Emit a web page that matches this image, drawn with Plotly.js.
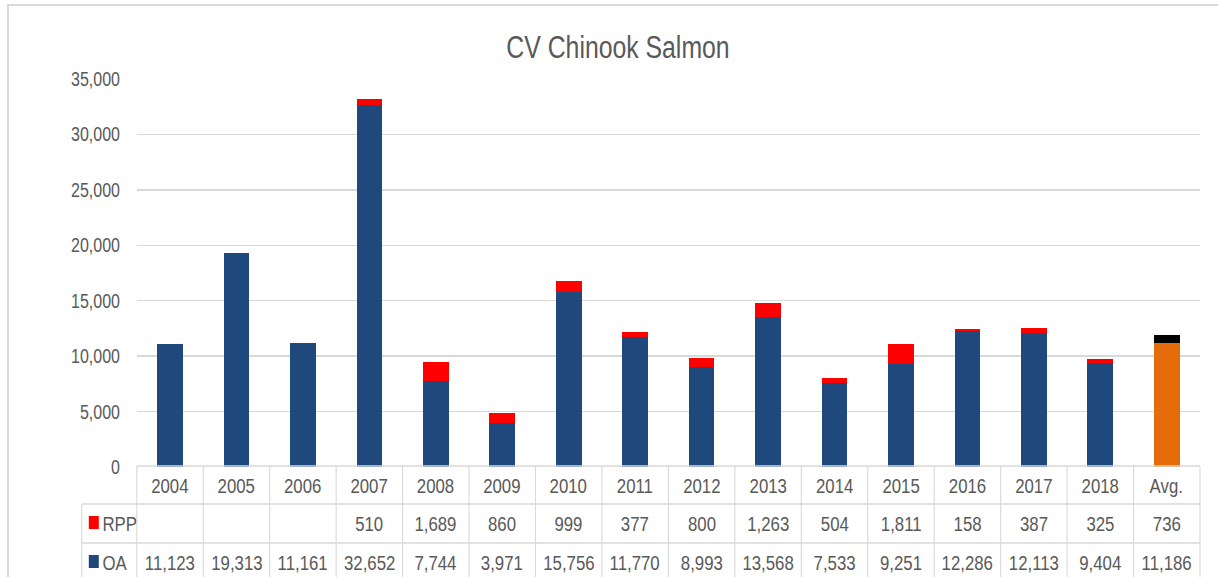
<!DOCTYPE html>
<html>
<head>
<meta charset="utf-8">
<script src="https://cdn.plot.ly/plotly-3.0.1.min.js"></script>
<style>
  html, body { margin: 0; padding: 0; background: #fff; overflow: hidden; }
  #wrap { position: relative; width: 1218px; height: 577px; overflow: hidden; }
  #chart { position: absolute; left: 0; top: 0; transform-origin: 0 0; }
  #frame { position: absolute; left: 7px; top: 4px; width: 1400px; height: 800px;
           border: 2px solid #d9d9d9; pointer-events: none; box-sizing: border-box; }
</style>
</head>
<body>
<div id="wrap">
  <div id="chart"></div>
  <div id="frame"></div>
</div>
<script>
// ---- data ----
var categories = ['2004','2005','2006','2007','2008','2009','2010','2011','2012','2013','2014','2015','2016','2017','2018','Avg.'];
var oaValues  = [11123, 19313, 11161, 32652, 7744, 3971, 15756, 11770, 8993, 13568, 7533, 9251, 12286, 12113, 9404, 11186];
var rppValues = [null, null, null, 510, 1689, 860, 999, 377, 800, 1263, 504, 1811, 158, 387, 325, 736];
var seriesNames = ['OA', 'RPP'];
var yTickVals = [0, 5000, 10000, 15000, 20000, 25000, 30000, 35000];

// ---- style ----
var FONT = '"Liberation Sans", Arial, sans-serif';
var TXT = '#595959';
var GRID = '#d9d9d9';
var OA_COLOR = '#1f497d', RPP_COLOR = '#ff0000', AVG_OA = '#e46c0a', AVG_RPP = '#000000';

// the reference uses a condensed face: draw wider and squeeze horizontally
var SX = 0.8;
var W = 1218, H = 577;
var M = {l: 137, r: 18, t: 79, b: 110};
var PH = H - M.t - M.b, PW = W - M.l - M.r;
function py(pix) { return (H - M.b - pix) / PH; }     // pixel row -> paper y
function px(pix) { return (pix - M.l) / PW; }         // pixel col -> paper x

var n = categories.length;
var isAvg = categories.map(function (c) { return c === 'Avg.'; });

var traceOA = {
  type: 'bar', name: seriesNames[0], x: categories, y: oaValues,
  marker: {color: isAvg.map(function (a) { return a ? AVG_OA : OA_COLOR; })},
  hoverinfo: 'x+y+name'
};
var traceRPP = {
  type: 'bar', name: seriesNames[1], x: categories, y: rppValues,
  marker: {color: isAvg.map(function (a) { return a ? AVG_RPP : RPP_COLOR; })},
  hoverinfo: 'x+y+name'
};

// ---- data table below the axis ----
var rowTop = py(466), rowRpp = py(504), rowOa = py(543), rowEnd = py(600);
var legLeft = px(82);
var shapes = [];
var lineStyle = {color: GRID, width: 1.4};
shapes.push({type: 'line', xref: 'paper', yref: 'paper', x0: 0, x1: 1, y0: rowTop, y1: rowTop, line: lineStyle});
shapes.push({type: 'line', xref: 'paper', yref: 'paper', x0: legLeft, x1: 1, y0: rowRpp, y1: rowRpp, line: lineStyle});
shapes.push({type: 'line', xref: 'paper', yref: 'paper', x0: legLeft, x1: 1, y0: rowOa, y1: rowOa, line: lineStyle});
for (var k = 0; k <= n; k++) {
  shapes.push({type: 'line', xref: 'paper', yref: 'paper', x0: k / n, x1: k / n, y0: rowTop, y1: rowEnd, line: lineStyle});
}
shapes.push({type: 'line', xref: 'paper', yref: 'paper', x0: legLeft, x1: legLeft, y0: rowRpp, y1: rowEnd, line: lineStyle});
// legend keys
shapes.push({type: 'rect', xref: 'paper', yref: 'paper', x0: px(89), x1: px(99), y0: py(529), y1: py(516),
             line: {width: 0}, fillcolor: RPP_COLOR});
shapes.push({type: 'rect', xref: 'paper', yref: 'paper', x0: px(89), x1: px(99), y0: py(568), y1: py(555),
             line: {width: 0}, fillcolor: OA_COLOR});

function fmt(v) { return (v === null || v === undefined) ? '' : v.toLocaleString('en-US'); }

var annotations = [];
var tf = {family: FONT, size: 21, color: TXT};
categories.forEach(function (c, i) {
  var cx = (i + 0.5) / n;
  annotations.push({xref: 'paper', yref: 'paper', x: cx, y: py(485), text: c, showarrow: false,
                    xanchor: 'center', yanchor: 'middle', font: tf});
  if (rppValues[i] !== null) {
    annotations.push({xref: 'paper', yref: 'paper', x: cx, y: py(523), text: fmt(rppValues[i]), showarrow: false,
                      xanchor: 'center', yanchor: 'middle', font: tf});
  }
  annotations.push({xref: 'paper', yref: 'paper', x: cx, y: py(562), text: fmt(oaValues[i]), showarrow: false,
                    xanchor: 'center', yanchor: 'middle', font: tf});
});
annotations.push({xref: 'paper', yref: 'paper', x: px(101), y: py(523), text: seriesNames[1], showarrow: false,
                  xanchor: 'left', yanchor: 'middle', font: tf});
annotations.push({xref: 'paper', yref: 'paper', x: px(101), y: py(562), text: seriesNames[0], showarrow: false,
                  xanchor: 'left', yanchor: 'middle', font: tf});

var layout = {
  width: W / SX, height: H,
  margin: {l: M.l / SX, r: M.r / SX, t: M.t, b: M.b},
  paper_bgcolor: 'rgba(0,0,0,0)', plot_bgcolor: 'rgba(0,0,0,0)',
  barmode: 'stack', bargap: 0.613,
  showlegend: false,
  font: {family: FONT, color: TXT, size: 20},
  title: {text: 'CV Chinook Salmon', x: 618 / W, xanchor: 'center', xref: 'container',
          y: 1 - 47 / H, yanchor: 'middle', yref: 'container',
          font: {family: FONT, size: 31, color: TXT}},
  xaxis: {type: 'category', categoryorder: 'array', categoryarray: categories,
          showticklabels: false, showgrid: false, zeroline: false, showline: false, ticks: '',
          range: [-0.5, n - 0.5], fixedrange: true},
  yaxis: {range: [0, 35000], tickvals: yTickVals, tickformat: ',d', showgrid: true, gridcolor: GRID, gridwidth: 1.4,
          zeroline: false, showline: false, ticks: '', ticklabelstandoff: 20,
          tickfont: {family: FONT, size: 20, color: TXT}, fixedrange: true},
  shapes: shapes,
  annotations: annotations
};

var el = document.getElementById('chart');
el.style.width = (W / SX) + 'px';
el.style.height = H + 'px';
el.style.transform = 'scaleX(' + SX + ')';
Plotly.newPlot(el, [traceOA, traceRPP], layout, {displayModeBar: false, staticPlot: true});
</script>
</body>
</html>
